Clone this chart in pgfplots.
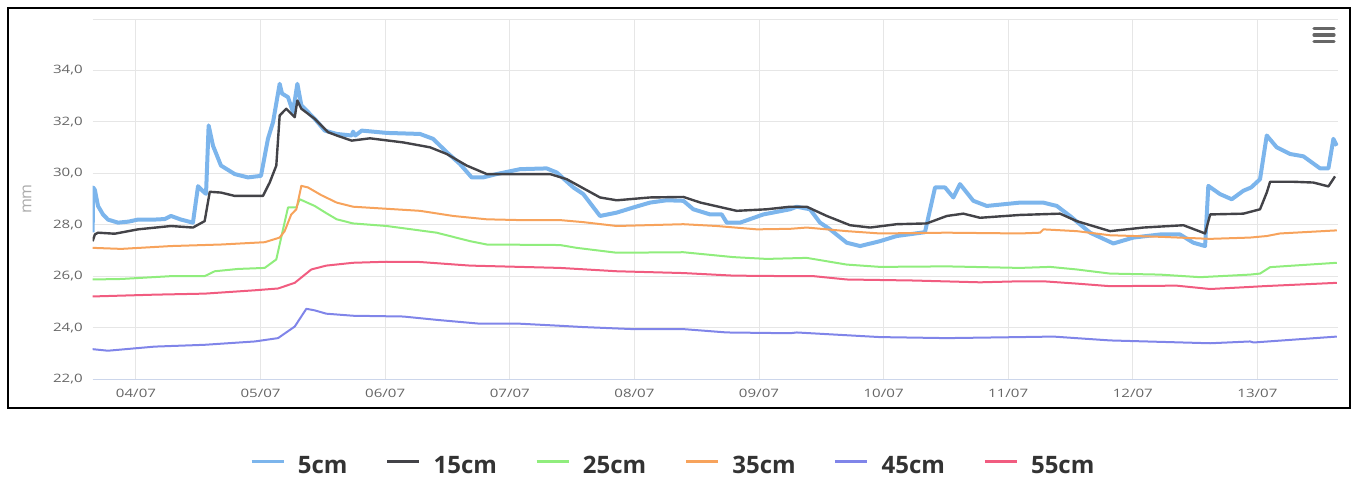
\documentclass[border=0pt]{standalone}
\usepackage{fontspec}
\usepackage{pgfplots}
\pgfplotsset{compat=1.18}
\newfontfamily\tickfont[FakeStretch=1.3]{Open Sans}
\newfontfamily\legfont{Open Sans}
\definecolor{c5}{HTML}{7CB5EC}
\definecolor{c15}{HTML}{434348}
\definecolor{c25}{HTML}{90ED7D}
\definecolor{c35}{HTML}{F7A35C}
\definecolor{c45}{HTML}{8085E9}
\definecolor{c55}{HTML}{F15C80}
\definecolor{tickgray}{HTML}{666666}
\definecolor{labgray}{HTML}{AAAAAA}
\definecolor{gridgray}{HTML}{E6E6E6}
\definecolor{axisblue}{HTML}{CCD6EB}
\definecolor{legtext}{HTML}{333333}
\begin{document}
\begin{tikzpicture}
% page frame in screen pixels (1px = 0.75pt), y downwards
\begin{scope}[shift={(0pt,359.25pt)},x=0.75pt,y=-0.75pt]
  \path (0,0) rectangle (1358,479);
  \draw[line width=1.5pt] (8,8) rectangle (1350,408);
  \draw[line width=2.4pt,line cap=round,tickgray]
    (1314,28.5) -- (1334,28.5) (1314,35) -- (1334,35) (1314,41.5) -- (1334,41.5);
\end{scope}
\begin{axis}[
  at={(69.525pt,75pt)}, anchor=south west,
  scale only axis, width=933.98pt, height=270pt,
  xmin=3.6525, xmax=13.647, ymin=22, ymax=36,
  xtick={4,...,13},
  xticklabels={04/07,05/07,06/07,07/07,08/07,09/07,10/07,11/07,12/07,13/07},
  ytick={22,24,...,36},
  yticklabels={{22,0},{24,0},{26,0},{28,0},{30,0},{32,0},{34,0},{}},
  tick style={draw=none}, major tick length=0pt,
  grid=major, major grid style={gridgray,line width=0.75pt},
  axis x line*=bottom, axis y line*=left,
  x axis line style={axisblue,line width=0.75pt,-},
  y axis line style={draw=none},
  x tick label style={font=\tickfont\fontsize{8.7}{10}\selectfont,text=tickgray,yshift=-4pt},
  y tick label style={font=\tickfont\fontsize{8.7}{10}\selectfont,text=tickgray,xshift=-4pt},
  ylabel={mm},
  every axis y label/.style={at={(rel axis cs:0,0.5)},xshift=-49.3pt,rotate=90,anchor=center,
    font=\legfont\fontsize{12}{13}\selectfont,text=labgray},
  no markers,
  legend columns=6,
  legend style={at={(0.1231,-0.2417)},anchor=west,draw=none,fill=none,
    font=\legfont\bfseries\fontsize{18}{20}\selectfont,text=legtext,
    nodes={inner sep=0pt}},
  legend image code/.code={\draw[#1,line width=2pt] (0pt,0.36em) -- (24pt,0.36em);},
]
\addplot[c5,line width=3pt,line join=round] coordinates {
(3.652,27.7) (3.656,29.45) (3.670,29.35) (3.695,28.73) (3.735,28.4) (3.775,28.2)
(3.856,28.08) (3.940,28.12) (4.016,28.2) (4.150,28.2) (4.230,28.22) (4.281,28.34)
(4.361,28.2) (4.457,28.08) (4.498,29.5) (4.538,29.3) (4.562,29.2) (4.583,31.86)
(4.618,31.07) (4.682,30.3) (4.792,29.97) (4.899,29.84) (5.003,29.9) (5.059,31.34)
(5.100,31.99) (5.153,33.48) (5.172,33.1) (5.220,32.96) (5.260,32.38) (5.295,33.48)
(5.327,32.64) (5.434,32.12) (5.515,31.66) (5.611,31.53) (5.731,31.47) (5.742,31.62)
(5.760,31.47) (5.812,31.66) (6.012,31.57) (6.279,31.53) (6.384,31.34) (6.494,30.82)
(6.600,30.36) (6.694,29.84) (6.787,29.84) (6.895,29.97) (7.082,30.16) (7.296,30.19)
(7.377,30.03) (7.510,29.45) (7.590,29.19) (7.724,28.34) (7.858,28.47) (7.991,28.67)
(8.125,28.86) (8.259,28.95) (8.393,28.93) (8.473,28.6) (8.607,28.4) (8.701,28.4)
(8.741,28.08) (8.848,28.08) (9.035,28.4) (9.249,28.6) (9.303,28.7) (9.409,28.6)
(9.490,28.08) (9.570,27.82) (9.704,27.3) (9.811,27.17) (9.971,27.36) (10.105,27.56)
(10.332,27.71) (10.413,29.45) (10.493,29.45) (10.560,29.06) (10.613,29.58) (10.720,28.93)
(10.828,28.73) (11.095,28.86) (11.282,28.86) (11.390,28.73) (11.496,28.34) (11.657,27.69)
(11.844,27.27) (12.004,27.5) (12.218,27.62) (12.379,27.62) (12.486,27.3) (12.580,27.17)
(12.606,29.51) (12.700,29.19) (12.794,28.99) (12.887,29.32) (12.950,29.45) (13.021,29.77)
(13.075,31.47) (13.155,31.01) (13.262,30.75) (13.369,30.66) (13.503,30.19) (13.570,30.19)
(13.610,31.34) (13.637,31.07)
};
\addlegendentry{\hspace*{9.75pt}5cm\hspace*{28.8pt}}
\addplot[c15,line width=1.8pt,line join=round] coordinates {
(3.652,27.36) (3.670,27.62) (3.695,27.69) (3.829,27.65) (4.016,27.82) (4.281,27.95)
(4.457,27.89) (4.551,28.14) (4.592,29.28) (4.682,29.25) (4.792,29.12) (5.019,29.12)
(5.073,29.64) (5.126,30.3) (5.153,32.25) (5.206,32.51) (5.274,32.18) (5.295,32.83)
(5.327,32.51) (5.434,32.12) (5.541,31.6) (5.611,31.47) (5.731,31.27) (5.878,31.36)
(6.145,31.2) (6.360,31.01) (6.494,30.75) (6.654,30.3) (6.815,29.97) (7.082,29.97)
(7.323,29.97) (7.457,29.77) (7.724,29.06) (7.858,28.95) (8.125,29.06) (8.393,29.08)
(8.531,28.86) (8.821,28.54) (9.062,28.6) (9.249,28.7) (9.383,28.7) (9.544,28.34)
(9.731,27.98) (9.892,27.89) (10.105,28.02) (10.346,28.05) (10.507,28.34) (10.640,28.43)
(10.774,28.27) (11.095,28.38) (11.416,28.43) (11.550,28.14) (11.817,27.75) (12.085,27.89)
(12.406,27.98) (12.580,27.66) (12.621,28.4) (12.887,28.43) (13.021,28.6) (13.075,29.25)
(13.102,29.67) (13.289,29.67) (13.449,29.64) (13.570,29.49) (13.623,29.88)
};
\addlegendentry{\hspace*{9.75pt}15cm\hspace*{28.8pt}}
\addplot[c25,line width=1.5pt,line join=round] coordinates {
(3.652,25.87) (3.882,25.89) (4.281,26.0) (4.551,26.0) (4.632,26.19) (4.819,26.28)
(5.033,26.32) (5.126,26.65) (5.180,27.82) (5.220,28.67) (5.287,28.67) (5.314,28.99)
(5.434,28.73) (5.527,28.45) (5.611,28.21) (5.742,28.05) (6.012,27.95) (6.413,27.69)
(6.681,27.36) (6.815,27.23) (7.403,27.21) (7.537,27.1) (7.858,26.91) (8.393,26.93)
(8.794,26.74) (9.062,26.67) (9.383,26.71) (9.704,26.45) (9.971,26.36) (10.507,26.38)
(11.095,26.32) (11.336,26.36) (11.550,26.26) (11.817,26.10) (12.218,26.06) (12.540,25.96)
(12.941,26.06) (13.021,26.1) (13.102,26.35) (13.289,26.41) (13.637,26.52)
};
\addlegendentry{\hspace*{9.75pt}25cm\hspace*{28.8pt}}
\addplot[c35,line width=1.5pt,line join=round] coordinates {
(3.652,27.1) (3.882,27.06) (4.281,27.17) (4.682,27.23) (5.033,27.32) (5.153,27.5)
(5.193,27.75) (5.246,28.4) (5.287,28.6) (5.327,29.51) (5.380,29.45) (5.487,29.15)
(5.611,28.86) (5.742,28.7) (6.012,28.62) (6.279,28.54) (6.547,28.34) (6.815,28.21)
(7.082,28.18) (7.403,28.18) (7.590,28.1) (7.858,27.95) (8.393,28.02) (8.661,27.95)
(8.982,27.82) (9.249,27.84) (9.383,27.89) (9.704,27.75) (9.971,27.66) (10.507,27.69)
(11.095,27.66) (11.256,27.69) (11.282,27.82) (11.550,27.75) (11.817,27.59) (12.218,27.53)
(12.621,27.45) (12.941,27.5) (13.075,27.56) (13.182,27.66) (13.449,27.73) (13.637,27.78)
};
\addlegendentry{\hspace*{9.75pt}35cm\hspace*{28.8pt}}
\addplot[c45,line width=1.5pt,line join=round] coordinates {
(3.652,23.16) (3.775,23.10) (4.150,23.26) (4.551,23.33) (4.953,23.46) (5.140,23.59)
(5.274,24.04) (5.367,24.73) (5.434,24.67) (5.527,24.54) (5.742,24.46) (6.145,24.43)
(6.413,24.30) (6.761,24.15) (7.082,24.15) (7.403,24.07) (7.590,24.02) (7.991,23.94)
(8.393,23.94) (8.741,23.81) (9.249,23.78) (9.303,23.81) (9.971,23.63) (10.507,23.59)
(11.095,23.63) (11.362,23.65) (11.817,23.50) (12.621,23.39) (12.941,23.46) (12.969,23.42)
(13.637,23.65)
};
\addlegendentry{\hspace*{9.75pt}45cm\hspace*{28.8pt}}
\addplot[c55,line width=1.5pt,line join=round] coordinates {
(3.652,25.21) (4.150,25.28) (4.551,25.32) (4.953,25.45) (5.140,25.52) (5.274,25.74)
(5.407,26.26) (5.527,26.41) (5.742,26.52) (6.012,26.56) (6.279,26.55) (6.681,26.41)
(7.403,26.32) (7.858,26.19) (8.393,26.12) (8.794,26.02) (9.249,26.0) (9.437,26.0)
(9.704,25.87) (10.239,25.83) (10.774,25.76) (11.095,25.80) (11.282,25.80) (11.550,25.71)
(11.817,25.61) (12.353,25.63) (12.621,25.50) (12.941,25.58) (13.048,25.61) (13.637,25.74)
};
\addlegendentry{\hspace*{9.75pt}55cm}
\end{axis}
\end{tikzpicture}
\end{document}
